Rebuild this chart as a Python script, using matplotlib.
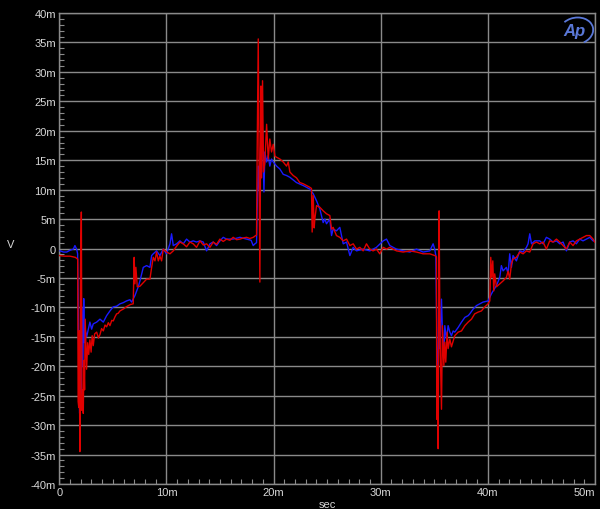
import numpy as np
import matplotlib.pyplot as plt
from matplotlib.ticker import MultipleLocator
from matplotlib.patches import Arc

# tiempo en ms, tension en mV
t_red = [0.0, 0.5, 1.0, 1.5, 1.72, 1.76, 1.82, 1.86, 1.92, 1.98, 2.06, 2.12, 2.18, 2.24,
         2.30, 2.36, 2.42, 2.47, 2.55, 2.65, 2.75, 2.86, 2.97, 3.07, 3.17, 3.30, 3.49,
         3.65, 3.80, 3.95, 4.11, 4.27, 4.42, 4.58, 4.73, 4.90, 5.04, 5.20, 5.35, 5.50,
         5.66, 5.85, 6.05, 6.25, 6.45, 6.65, 6.90, 6.99, 7.06, 7.15, 7.28, 7.53, 7.84,
         8.15, 8.46, 8.62, 8.77, 8.93, 9.08, 9.24, 9.39, 9.55, 9.70, 10.01, 10.33, 10.64,
         10.95, 11.26, 11.57, 11.88, 12.19, 12.50, 12.81, 13.13, 13.44, 13.75, 14.06,
         14.37, 14.68, 14.99, 15.30, 15.61, 15.92, 16.23, 16.55, 16.86, 17.17, 17.48,
         17.79, 18.10, 18.41, 18.47, 18.57, 18.63, 18.72, 18.82, 18.88, 18.97, 19.06,
         19.19, 19.35, 19.50, 19.65, 19.81, 19.97, 20.12, 20.28, 20.59, 20.90, 21.21,
         21.37, 21.52, 21.83, 22.14, 22.45, 22.76, 23.07, 23.38, 23.54, 23.60, 23.70,
         23.79, 23.85, 24.01, 24.32, 24.63, 24.94, 25.25, 25.41, 25.56, 25.87, 26.18,
         26.50, 26.81, 27.12, 27.43, 27.74, 28.05, 28.36, 28.67, 28.98, 29.29, 29.60,
         29.91, 30.23, 30.54, 30.85, 31.47, 32.09, 32.72, 33.34, 33.96, 34.58, 35.05,
         35.20, 35.23, 35.29, 35.36, 35.45, 35.51, 35.57, 35.67, 35.76, 35.89, 35.98,
         36.07, 36.20, 36.29, 36.45, 36.60, 36.91, 37.23, 37.54, 37.85, 38.16, 38.47,
         38.77, 39.09, 39.40, 39.71, 40.02, 40.18, 40.27, 40.36, 40.46, 40.55, 40.64,
         40.80, 41.11, 41.42, 41.73, 41.89, 42.04, 42.20, 42.35, 42.66, 42.98, 43.29,
         43.60, 43.91, 44.22, 44.53, 44.84, 45.15, 45.46, 45.77, 46.08, 46.40, 46.71,
         47.02, 47.33, 47.64, 47.95, 48.26, 48.57, 48.88, 49.20, 49.51, 49.82, 49.97]
v_red = [-1.2, -1.3, -1.3, -1.5, -1.8, -26, -27, -14, -34.5, -3, 6.2, -27.5, -24, -28,
         -19, -24, -12, -15.5, -20.5, -16, -18, -15.5, -17.6, -14.8, -16.5, -14.5, -14.2,
         -15.2, -14.6, -13.6, -14.0, -13.0, -13.3, -12.6, -13.1, -12.2, -12.3, -11.6, -11.1, -11.0,
         -10.6, -10.4, -10.2, -9.9, -9.7, -9.5, -9.4, -1.5, -6.0, -3.2, -6.5, -6.4, -5.8,
         -5.2, -5.2, -3.2, -1.5, -2.1, -0.6, -2.1, -1.3, -2.1, -0.1, -0.6, -0.9, -0.4,
         0.4, 1.1, 0.8, 0.3, 1.1, 0.8, 0.2, 1.3, 0.6, 0.8, 0.2,
         1.1, 0.7, 1.6, 1.2, 1.6, 1.4, 1.9, 1.5, 1.6, 1.8, 1.9,
         1.7, 1.9, 2.3, 16.9, 35.6, 20, -5.7, 27.6, 12, 28.5, 13,
         14.7, 21.1, 15.2, 18.6, 16.4, 17.7, 15.7, 15.5, 15.2, 14.7, 14.0,
         14.7, 13.0, 12.4, 12.0, 11.2, 11.0, 10.7, 10.4, 10.2, 2.8, 9.0,
         3.5, 5.0, 7.3, 7.0, 6.4, 5.9, 5.6, 3.3, 3.6, 2.2, 1.9,
         1.3, 1.6, 0.5, 0.8, -0.1, 0.2, -0.4, 0.8, -0.1, -0.4, -0.1,
         -0.9, 0.2, -0.1, 0.2, -0.4, -0.6, -0.4, -0.6, -0.9, -0.9, -1.2,
         -1.4, -29, -20, -34, 6.4, -10, -18.2, -27.3, -13.1, -19.9, -15.9,
         -19.3, -14.2, -17.0, -15.4, -16.7, -14.8, -14.2, -14.0, -13.1, -12.5, -12.0,
         -11.1, -10.8, -10.6, -9.9, -9.4, -8.9, -1.5, -4.9, -2.1, -7.2, -4.3,
         -6.5, -6.0, -5.5, -4.9, -3.8, -5.2, -2.6, -1.8, -1.5, -0.6, -0.9,
         -0.4, -0.6, 0.8, 1.1, 0.8, 1.1, -0.1, 1.3, 1.1, 1.6, 1.1,
         0.5, -0.1, 1.1, 0.5, 1.3, 1.6, 1.9, 2.2, 2.2, 1.6, 1.1]

t_blue = [0.07, 0.40, 0.69, 1.00, 1.31, 1.46, 1.62, 1.71, 1.76, 1.83, 1.90, 1.97, 2.04,
          2.12, 2.20, 2.28, 2.35, 2.42, 2.55, 2.71, 2.86, 3.02, 3.17, 3.49, 3.80, 4.11,
          4.42, 4.73, 5.04, 5.35, 5.66, 5.97, 6.28, 6.59, 6.75, 7.06, 7.37, 7.53, 7.84,
          8.15, 8.46, 8.62, 8.77, 9.08, 9.39, 9.70, 10.01, 10.33, 10.48, 10.64, 10.95,
          11.26, 11.57, 11.88, 12.19, 12.50, 12.81, 13.13, 13.44, 13.75, 14.06, 14.37,
          14.68, 14.99, 15.30, 15.61, 16.23, 16.86, 17.48, 17.90, 18.10, 18.26, 18.41,
          18.47, 18.57, 18.66, 18.78, 18.88, 18.97, 19.10, 19.19, 19.35, 19.50, 19.65,
          19.81, 19.97, 20.28, 20.59, 20.90, 21.21, 21.52, 22.14, 22.76, 23.38, 23.70,
          24.01, 24.32, 24.63, 24.79, 24.94, 25.25, 25.41, 25.56, 25.87, 26.18, 26.50,
          26.81, 27.12, 27.43, 27.74, 28.36, 28.98, 29.60, 30.23, 30.54, 30.85, 31.47,
          32.09, 32.72, 33.34, 33.96, 34.58, 34.74, 34.89, 35.04, 35.14, 35.20, 35.29,
          35.36, 35.45, 35.51, 35.67, 35.76, 35.89, 35.98, 36.14, 36.29, 36.45, 36.60,
          36.76, 36.91, 37.23, 37.54, 37.85, 38.16, 38.31, 38.62, 38.93, 39.55, 40.02,
          40.33, 40.49, 40.80, 41.11, 41.26, 41.42, 41.73, 41.89, 42.04, 42.20, 42.35,
          42.66, 42.98, 43.29, 43.60, 43.75, 43.91, 44.07, 44.38, 44.84, 45.15, 45.46,
          45.77, 46.08, 46.40, 46.71, 47.02, 47.33, 47.64, 47.95, 48.26, 48.57, 48.88,
          49.20, 49.51, 49.82, 49.97]
v_blue = [-0.4, -0.6, -0.6, -0.3, -0.1, 0.5, -0.1, -0.9, -8, -22, -28, -14, -26,
          -10, -20, -8.5, -16, -13.7, -15, -13.7, -12.5, -13.7, -12.8, -12.5, -12.0, -12.5,
          -11.4, -10.6, -9.9, -9.8, -9.4, -9.2, -8.9, -8.7, -9.1, -8.0, -6.5, -5.5, -3.2,
          -2.9, -3.2, -1.2, -0.9, -0.4, -1.2, -0.1, -0.9, 0.8, 2.5, 0.5, 0.8,
          1.3, 0.8, 1.6, 1.1, 1.3, 1.1, 1.3, 1.1, -0.4, 0.8, 1.1,
          0.5, 1.3, 1.9, 1.6, 1.6, 1.9, 1.6, 1.4, 0.5, 0.8, 1.0,
          6.7, 14, 10, 17, 19.2, 19.8, 9.6, 16.4, 14.7, 15.8, 14.0,
          15.2, 14.7, 14.0, 13.5, 12.6, 12.4, 12.1, 11.2, 10.7, 10.1, 9.3,
          8.1, 6.7, 4.4, 5.0, 4.2, 5.0, 2.2, 3.3, 3.0, 3.6, 0.8,
          1.1, -1.2, 0.2, -0.4, -0.1, -0.4, 0.2, 1.3, 1.6, 0.5, -0.1,
          -0.4, -0.6, -0.1, -0.6, -0.4, 0.2, 0.8, -0.1, -1.2, -9.1, -22,
          -19.9, -12, -17, -8.6, -14.2, -18.2, -13.1, -15.4, -13.1, -14.2, -14.8,
          -14.0, -14.2, -13.4, -12.5, -11.7, -11.4, -11.1, -10.3, -9.7, -9.1, -8.9,
          -7.7, -7.2, -6.3, -4.9, -2.9, -3.8, -3.2, -4.3, -0.9, -3.2, -1.2,
          -2.1, -0.4, -0.6, 0.2, 0.8, 2.5, 0.8, 1.3, 1.3, 0.8, 1.9,
          1.6, 1.1, 1.3, 0.8, 1.1, -0.4, 1.1, 1.3, 0.8, 1.6, 1.3,
          1.6, 1.9, 1.3, 1.3]

x_ticks = [0, 10, 20, 30, 40, 50]
x_labels = ['0', '10m', '20m', '30m', '40m', '50m']
y_ticks = [40, 35, 30, 25, 20, 15, 10, 5, 0, -5, -10, -15, -20, -25, -30, -35, -40]
y_labels = ['40m', '35m', '30m', '25m', '20m', '15m', '10m', '5m', '0',
            '-5m', '-10m', '-15m', '-20m', '-25m', '-30m', '-35m', '-40m']

plt.rcParams['font.family'] = ['Liberation Sans', 'DejaVu Sans']

fig = plt.figure(figsize=(6, 5.1), dpi=100, facecolor='black')
ax = fig.add_axes([0.0988, 0.049, 0.8929, 0.9235], facecolor='black')

gris = '#8a8a8a'
ax.plot(t_blue, v_blue, color='#1a1aff', lw=1.0, zorder=3)
ax.plot(t_red, v_red, color='#e00000', lw=1.0, zorder=4)

ax.set_xlim(0, 50)
ax.set_ylim(-40, 40)
ax.set_xticks(x_ticks)
ax.set_xticklabels(x_labels)
ax.set_yticks(y_ticks)
ax.set_yticklabels(y_labels)
ax.xaxis.set_minor_locator(MultipleLocator(1))
ax.yaxis.set_minor_locator(MultipleLocator(1))
ax.grid(True, which='major', color=gris, lw=1.0, zorder=1)
ax.tick_params(which='major', length=0, pad=2.5, labelsize=8, labelcolor='#d8d8d8')
ax.tick_params(which='minor', direction='in', length=3.5, color=gris, width=0.8)
ax.get_xticklabels()[-1].set_horizontalalignment('right')
for s in ax.spines.values():
    s.set_color(gris)
    s.set_linewidth(1.0)

fig.text(0.012, 0.52, 'V', color='#d8d8d8', fontsize=8, ha='left', va='center')
fig.text(0.545, 0.01, 'sec', color='#d8d8d8', fontsize=8, ha='center', va='center')

# logo Ap
ax.text(0.962, 0.962, 'Ap', transform=ax.transAxes, color='#5a78d8', fontsize=12,
        fontstyle='italic', fontweight='bold', ha='center', va='center', zorder=6)
ax.add_patch(Arc((0.965, 0.962), 0.064, 0.056, angle=20, theta1=-80, theta2=120,
                 transform=ax.transAxes, color='#5a78d8', lw=1.3, zorder=6))

fig.savefig('out.png', dpi=100, facecolor='black')
